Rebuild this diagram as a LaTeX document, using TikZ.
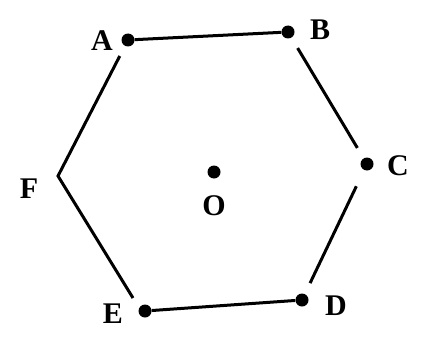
\documentclass[tikz,border=0pt]{standalone}
\usepackage{fontspec}
\setmainfont{Liberation Serif}
\begin{document}
\begin{tikzpicture}[x=1pt,y=-1pt,
  side/.style={line width=3pt},
  dot/.style={circle,fill=black,inner sep=0pt,minimum size=13pt},
  lab/.style={font=\fontsize{30}{30}\selectfont\bfseries,inner sep=0pt}]
\useasboundingbox (0,0) rectangle (425,337);
\node[dot] (A) at (128,40) {};
\node[dot] (B) at (288,32) {};
\node[dot] (C) at (367,164) {};
\node[dot] (D) at (302,300) {};
\node[dot] (E) at (145,311) {};
\coordinate (F) at (58,176);
\node[dot] (O) at (214,172) {};
\node[lab] (lA) at (102,41) {A};
\node[lab] (lB) at (320,30) {B};
\node[lab] (lC) at (398,166) {C};
\node[lab] (lD) at (336,306) {D};
\node[lab] (lE) at (113,314) {E};
\node[lab] (lF) at (29,189) {F};
\node[lab] (lO) at (214,206) {O};
\draw[side] (A) -- (B);
\draw[side,shorten <=12pt,shorten >=12pt] (B) -- (C);
\draw[side,shorten <=18pt,shorten >=12pt] (C) -- (D);
\draw[side] (E) -- (D);
\draw[side,shorten <=18pt] (A.center) -- (F) -- ([shift={(-12,-13)}]E.center);
\end{tikzpicture}
\end{document}
